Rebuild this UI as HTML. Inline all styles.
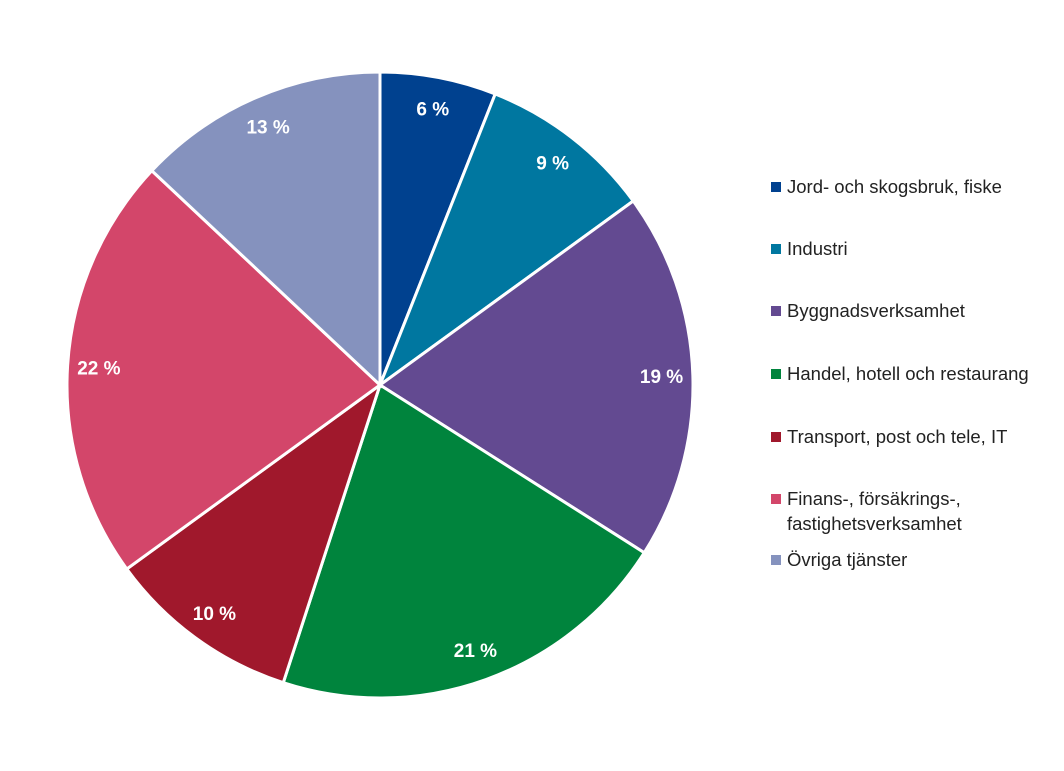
<!DOCTYPE html>
<html><head><meta charset="utf-8"><style>
body{margin:0;background:#fff;width:1064px;height:771px;overflow:hidden;font-family:"Liberation Sans",sans-serif}
.leg{position:absolute;left:773px;font-size:18.5px;color:#222;line-height:25px}
.sw{position:absolute;left:-2px;top:8px;width:10px;height:10px}
.lt{padding-left:14px}
</style></head><body>
<svg id="chart" width="1064" height="771" style="position:absolute;left:0;top:0"></svg>
<div id="legend"></div>
<script>
const categories=["Jord- och skogsbruk, fiske","Industri","Byggnadsverksamhet","Handel, hotell och restaurang","Transport, post och tele, IT","Finans-, försäkrings-, fastighetsverksamhet","Övriga tjänster"];
const values=[6,9,19,21,10,22,13];
const labels=["6 %","9 %","19 %","21 %","10 %","22 %","13 %"];
const colors=["#00418f","#0077a0","#634a91","#00843d","#a0182c","#d3466a","#8592be"];
const legendY=[174,236,298,361,424,486,547];
const cx=380,cy=385,r=313;
const svg=document.getElementById('chart');
const NS="http://www.w3.org/2000/svg";
const total=values.reduce((a,b)=>a+b,0);
function pt(a,rr){return [cx+rr*Math.sin(a),cy-rr*Math.cos(a)];}
let acc=0;
values.forEach((v,i)=>{
  const a0=acc/total*2*Math.PI;acc+=v;const a1=acc/total*2*Math.PI;
  const p0=pt(a0,r),p1=pt(a1,r);
  const path=document.createElementNS(NS,'path');
  path.setAttribute('d',`M${cx},${cy}L${p0[0]},${p0[1]}A${r},${r} 0 ${a1-a0>Math.PI?1:0} 1 ${p1[0]},${p1[1]}Z`);
  path.setAttribute('fill',colors[i]);path.setAttribute('stroke','#fff');path.setAttribute('stroke-width','3');
  
  
  svg.appendChild(path);
});
acc=0;
values.forEach((v,i)=>{
  const am=(acc+v/2)/total*2*Math.PI;acc+=v;
  const p=pt(am,r*0.9);
  const t=document.createElementNS(NS,'text');
  t.setAttribute('x',p[0]);t.setAttribute('y',p[1]+7);t.setAttribute('text-anchor','middle');
  t.setAttribute('fill','#fff');t.setAttribute('font-weight','bold');t.setAttribute('font-size','19');
  t.setAttribute('font-family','Liberation Sans, sans-serif');
  t.textContent=labels[i];
  
  
  svg.appendChild(t);
});
const lg=document.getElementById('legend');
categories.forEach((c,i)=>{
  const d=document.createElement('div');d.className='leg';d.style.top=legendY[i]+'px';
  
  
  const txt=i===5?'Finans-, försäkrings-,<br>fastighetsverksamhet':c;
  d.innerHTML=`<span class="sw" style="background:${colors[i]}"></span><div class="lt">${txt}</div>`;
  lg.appendChild(d);
});
</script>
</body></html>
